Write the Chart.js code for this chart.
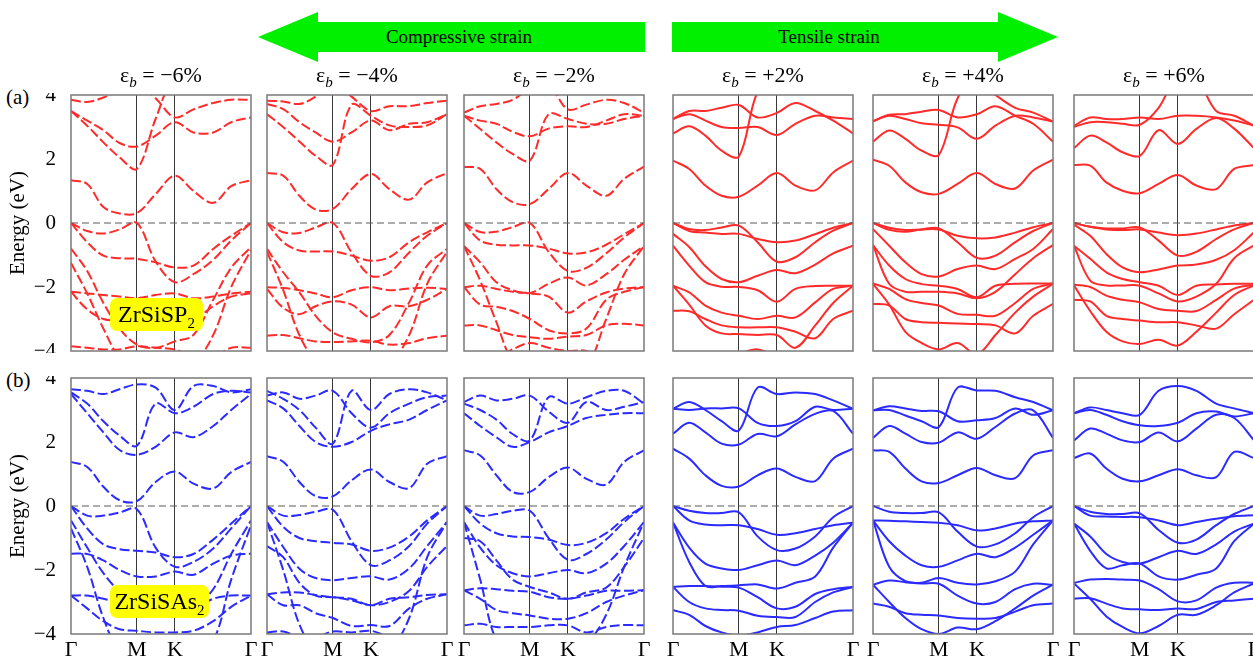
<!DOCTYPE html>
<html>
<head>
<meta charset="utf-8">
<script src="https://cdn.jsdelivr.net/npm/chart.js@4.4.1/dist/chart.umd.min.js"></script>
<style>
  body { margin: 0; width: 1253px; height: 660px; overflow: hidden; background: #fff; position: relative;
         font-family: 'Liberation Serif', 'Times New Roman', serif; color: #000; }
  canvas { position: absolute; }
  .ttl { position: absolute; width: 180px; text-align: center; font-size: 22px; line-height: 26px; top: 62px; }
  .ttl sub { font-size: 15px; font-style: italic; }
  .tag { position: absolute; left: 6px; font-size: 21px; line-height: 26px; }
  .mat { position: absolute; left: 110px; height: 33px; line-height: 33px; background: #ffff00; border-radius: 7px;
         text-align: center; font-size: 24px; z-index: 5; }
  .mat sub { font-size: 15px; }
  svg { position: absolute; left: 0; top: 0; }
</style>
</head>
<body>
<svg width="1253" height="70">
  <polygon points="258,37 318,12 318,22 645,22 645,52 318,52 318,62" fill="#00f000"/>
  <polygon points="1058,37 998,12 998,22 672,22 672,52 998,52 998,62" fill="#00f000"/>
  <text x="459" y="43" font-size="19" text-anchor="middle" font-family="Liberation Serif">Compressive strain</text>
  <text x="829" y="43" font-size="19" text-anchor="middle" font-family="Liberation Serif">Tensile strain</text>
</svg>
<div class="tag" style="top:84px">(a)</div>
<div class="tag" style="top:367px">(b)</div>
<div class="mat" style="top:298px;width:93px">ZrSiSP<sub>2</sub></div>
<div class="mat" style="top:585px;width:99px">ZrSiSAs<sub>2</sub></div>

<script>
// k path positions (Γ-M-K-Γ, hexagonal, normalised) and labels
const kPath = [0, 0.09, 0.18, 0.27, 0.366, 0.47, 0.577, 0.68, 0.79, 0.89, 1];
const kTicks = [0, 0.366, 0.577, 1];
const kLabels = ['Γ', 'M', 'K', 'Γ'];
const energyTicks = [-4, -2, 0, 2, 4];
const strains = ['−6%', '−4%', '−2%', '+2%', '+4%', '+6%'];

// (a) ZrSiSP2 bands, eV at kPath
const bandsP_m6 = [
  [1.34, 1.22, 0.5, 0.3, 0.31, 0.9, 1.48, 1.0, 0.63, 1.15, 1.34],
  [3.5, 3.04, 2.52, 2.05, 1.69, 3.25, 4.6, 4.6, 4.6, 4.6, 4.6],
  [3.5, 3.2, 2.9, 2.5, 2.39, 2.73, 3.15, 2.83, 2.83, 3.15, 3.3],
  [3.85, 3.78, 3.92, 4.15, 4.4, 3.9, 3.3, 3.55, 3.75, 3.85, 3.85],
  [0, -0.25, -0.33, -0.2, 0, -1.2, -1.85, -1.6, -1.15, -0.55, 0],
  [0, -0.6, -1.02, -1.1, -1.12, -1.23, -1.39, -1.33, -0.81, -0.4, 0],
  [-0.8, -1.5, -2.5, -3.3, -3.8, -3.9, -3.7, -3.5, -2.4, -1.4, -0.75],
  [-1.25, -2.2, -3.3, -4.2, -4.5, -4.5, -4.5, -4.4, -3.5, -2.0, -0.85],
  [-2.15, -2.2, -2.25, -2.3, -2.35, -2.25, -2.2, -2.35, -2.3, -2.2, -2.15],
  [-2.15, -2.7, -3.0, -3.05, -3.1, -3.2, -3.25, -3.05, -2.6, -2.3, -2.2],
  [-3.85, -3.9, -3.95, -3.95, -3.85, -3.9, -3.95, -4.2, -4.2, -3.9, -3.9]
];
const bandsP_m4 = [
  [1.56, 1.48, 0.85, 0.42, 0.44, 1.06, 1.53, 1.06, 0.73, 1.27, 1.56],
  [3.4, 3.0, 2.55, 2.1, 1.82, 3.7, 3.35, 3.05, 3.0, 3.05, 3.4],
  [3.72, 3.56, 3.15, 2.83, 2.54, 2.83, 3.2, 2.9, 3.1, 3.15, 3.4],
  [3.82, 3.8, 3.72, 3.95, 4.4, 3.95, 3.5, 3.65, 3.65, 3.75, 3.82],
  [0, -0.29, -0.31, -0.14, 0, -0.92, -1.65, -1.54, -0.92, -0.4, 0],
  [0, -0.6, -0.86, -0.89, -0.89, -1.02, -1.18, -1.07, -0.6, -0.29, 0],
  [-0.81, -1.54, -2.17, -2.9, -3.42, -3.62, -3.73, -3.5, -2.48, -1.33, -0.81],
  [-0.9, -2.1, -3.5, -4.3, -4.5, -4.5, -4.5, -4.4, -3.5, -1.9, -0.9],
  [-2.01, -2.03, -2.1, -2.2, -2.32, -2.1, -2.01, -2.1, -2.05, -2.02, -2.06],
  [-2.06, -2.65, -2.85, -2.6, -2.45, -2.55, -2.95, -2.6, -2.6, -2.4, -2.06],
  [-3.52, -3.5, -3.6, -3.7, -3.72, -3.7, -3.68, -3.8, -3.75, -3.6, -3.52]
];
const bandsP_m2 = [
  [1.76, 1.69, 1.06, 0.65, 0.59, 1.06, 1.56, 1.17, 0.85, 1.38, 1.76],
  [3.35, 2.94, 2.52, 2.16, 1.95, 3.4, 3.25, 3.1, 3.1, 3.25, 3.35],
  [3.35, 3.2, 3.1, 2.85, 2.71, 2.95, 3.02, 3.0, 3.2, 3.4, 3.35],
  [3.45, 3.65, 3.72, 3.85, 4.2, 4.3, 3.55, 3.7, 3.85, 3.75, 3.45],
  [0, -0.28, -0.27, -0.13, 0, -0.9, -1.5, -1.4, -0.95, -0.45, 0],
  [0, -0.55, -0.68, -0.7, -0.7, -0.8, -0.95, -0.92, -0.68, -0.35, 0],
  [-0.72, -1.23, -1.85, -2.1, -2.19, -1.9, -1.7, -1.95, -1.6, -1.15, -0.72],
  [-0.72, -1.8, -3.1, -4.3, -4.5, -4.5, -4.5, -4.5, -3.0, -1.6, -0.72],
  [-2.0, -1.96, -2.06, -2.15, -2.2, -2.3, -2.8, -2.45, -2.17, -2.05, -2.0],
  [-2.0, -2.55, -2.62, -2.75, -3.0, -3.35, -3.45, -3.3, -2.4, -2.15, -2.0],
  [-3.2, -3.2, -3.35, -3.5, -3.57, -3.62, -3.55, -3.5, -3.2, -3.15, -3.2],
  [-4.3, -4.3, -4.2, -3.95, -3.75, -3.9, -4.0, -4.0, -4.3, -4.3, -4.3]
];
const bandsP_p2 = [
  [1.95, 1.69, 1.17, 0.85, 0.82, 1.17, 1.56, 1.17, 1.02, 1.58, 1.95],
  [2.8, 3.02, 2.73, 2.26, 2.08, 4.1, 4.6, 4.6, 4.6, 4.6, 4.6],
  [3.25, 3.4, 3.2, 3.0, 2.97, 3.0, 2.75, 3.1, 3.35, 3.3, 3.25],
  [3.25, 3.5, 3.5, 3.6, 3.69, 3.3, 3.44, 3.75, 3.5, 3.2, 2.8],
  [0, -0.19, -0.22, -0.14, -0.08, -0.6, -1.21, -1.07, -0.6, -0.24, 0],
  [0, -0.25, -0.3, -0.34, -0.34, -0.5, -0.6, -0.55, -0.35, -0.15, 0],
  [-0.34, -0.75, -1.35, -1.75, -1.85, -1.65, -1.47, -1.57, -1.3, -0.95, -0.71],
  [-0.71, -1.33, -1.85, -1.99, -2.0, -2.1, -2.46, -2.06, -1.97, -1.96, -1.96],
  [-1.96, -2.17, -2.58, -2.8, -2.9, -3.0, -2.9, -2.95, -2.48, -2.06, -1.96],
  [-2.74, -2.76, -3.0, -3.2, -3.26, -3.26, -3.26, -3.4, -3.6, -3.0, -2.74],
  [-1.96, -2.55, -3.2, -3.45, -3.47, -3.5, -3.5, -3.9, -3.2, -2.5, -1.96],
  [-4.5, -4.5, -4.5, -4.3, -4.1, -3.95, -4.2, -4.5, -4.5, -4.5, -4.5]
];
const bandsP_p4 = [
  [1.98, 1.79, 1.27, 0.96, 0.91, 1.22, 1.56, 1.22, 1.08, 1.64, 1.98],
  [2.54, 2.89, 2.63, 2.26, 2.13, 3.9, 4.6, 4.6, 4.6, 4.6, 4.6],
  [3.18, 3.35, 3.25, 3.12, 3.07, 2.99, 2.63, 3.04, 3.35, 3.3, 3.17],
  [3.18, 3.38, 3.4, 3.48, 3.53, 3.3, 3.4, 3.65, 3.35, 3.1, 2.54],
  [4.6, 4.6, 4.6, 4.6, 4.6, 4.6, 4.4, 4.0, 3.6, 3.45, 3.17],
  [0, -0.21, -0.27, -0.2, -0.17, -0.6, -1.09, -1.02, -0.6, -0.25, 0],
  [0, -0.15, -0.22, -0.2, -0.2, -0.4, -0.48, -0.45, -0.3, -0.13, 0],
  [-0.19, -0.71, -1.23, -1.6, -1.67, -1.44, -1.33, -1.44, -1.12, -0.81, -0.19],
  [-0.69, -1.33, -1.75, -1.91, -1.96, -2.06, -2.32, -1.96, -1.9, -1.89, -1.89],
  [-0.69, -1.9, -2.15, -2.15, -2.15, -2.2, -2.35, -2.15, -1.6, -1.1, -0.69],
  [-1.89, -2.06, -2.38, -2.5, -2.58, -2.84, -2.87, -2.9, -2.5, -2.06, -1.89],
  [-2.53, -2.58, -3.0, -3.1, -3.12, -3.14, -3.16, -3.2, -3.45, -2.9, -2.53],
  [-1.9, -2.55, -3.4, -3.75, -3.95, -3.75, -4.1, -3.5, -2.8, -2.3, -1.9]
];
const bandsP_p6 = [
  [1.81, 1.79, 1.27, 1.01, 0.93, 1.22, 1.5, 1.17, 1.06, 1.69, 1.81],
  [2.34, 2.73, 2.52, 2.21, 2.1, 2.9, 2.47, 2.94, 3.28, 2.95, 2.34],
  [3.04, 3.3, 3.25, 3.25, 3.3, 3.25, 3.35, 3.35, 3.3, 3.2, 3.04],
  [3.0, 3.15, 3.15, 3.1, 3.07, 3.6, 4.6, 4.5, 3.5, 3.35, 3.04],
  [0, -0.12, -0.17, -0.17, -0.14, -0.55, -1.02, -0.9, -0.5, -0.2, 0],
  [0, -0.12, -0.2, -0.22, -0.2, -0.3, -0.38, -0.33, -0.2, -0.08, 0],
  [-0.05, -0.4, -0.97, -1.39, -1.54, -1.45, -1.33, -1.3, -1.15, -0.85, -0.29],
  [-0.71, -1.12, -1.54, -1.75, -1.85, -1.96, -2.25, -1.96, -1.92, -1.9, -1.9],
  [-0.71, -1.8, -1.95, -1.95, -1.96, -2.2, -2.45, -2.3, -1.9, -1.1, -0.7],
  [-1.93, -2.0, -2.27, -2.4, -2.48, -2.69, -2.74, -2.75, -2.4, -2.05, -1.93],
  [-2.4, -2.45, -2.9, -3.0, -3.05, -3.1, -3.1, -3.2, -3.3, -2.85, -2.4],
  [-1.95, -2.75, -3.4, -3.7, -3.78, -3.65, -3.83, -3.4, -2.8, -2.25, -1.95]
];

// (b) ZrSiSAs2 bands, eV at kPath
const bandsAs_m6 = [
  [1.38, 1.22, 0.6, 0.18, 0.15, 0.75, 1.08, 0.7, 0.55, 1.06, 1.38],
  [3.55, 3.2, 2.65, 2.2, 1.88, 3.2, 2.9, 3.1, 3.5, 3.6, 3.55],
  [3.5, 2.9, 2.3, 1.75, 1.6, 1.85, 2.3, 2.15, 2.5, 3.0, 3.5],
  [3.65, 3.6, 3.5, 3.65, 3.8, 3.7, 3.0, 3.75, 3.75, 3.55, 3.65],
  [0, -0.3, -0.3, -0.2, -0.1, -1.3, -1.9, -1.75, -1.33, -0.7, 0],
  [0, -0.7, -1.2, -1.35, -1.4, -1.45, -1.6, -1.5, -1.05, -0.55, 0],
  [-0.45, -1.3, -2.1, -2.65, -2.85, -3.0, -3.4, -3.2, -2.6, -1.5, -0.45],
  [-0.7, -1.9, -3.5, -4.5, -4.5, -4.5, -4.5, -4.5, -4.2, -2.3, -0.6],
  [-1.49, -1.5, -1.7, -2.0, -2.2, -2.2, -2.05, -2.15, -1.8, -1.55, -1.49],
  [-2.8, -2.8, -2.9, -3.0, -3.05, -3.2, -3.3, -3.2, -2.9, -2.8, -2.8],
  [-2.8, -3.2, -3.6, -3.85, -3.9, -3.95, -3.95, -3.9, -3.6, -3.15, -2.8]
];
const bandsAs_m4 = [
  [1.56, 1.38, 0.75, 0.31, 0.3, 0.8, 1.14, 0.75, 0.56, 1.32, 1.56],
  [3.3, 3.05, 2.5, 2.0, 1.85, 2.0, 2.35, 2.55, 2.7, 3.0, 3.3],
  [3.6, 3.35, 3.0, 2.45, 1.95, 3.6, 3.0, 3.5, 3.65, 3.55, 3.3],
  [3.45, 3.55, 3.35, 3.45, 3.6, 2.9, 2.45, 2.9, 3.2, 3.4, 3.45],
  [0, -0.3, -0.28, -0.18, -0.12, -1.1, -1.85, -1.7, -1.25, -0.55, 0],
  [0, -0.65, -1.0, -1.1, -1.15, -1.2, -1.4, -1.3, -0.95, -0.45, 0],
  [-0.5, -1.28, -1.96, -2.25, -2.32, -2.25, -2.2, -2.3, -1.95, -1.25, -0.5],
  [-0.5, -2.0, -3.7, -4.5, -4.5, -4.5, -4.5, -4.5, -3.5, -1.6, -0.5],
  [-1.25, -1.6, -2.4, -2.8, -2.85, -2.95, -3.1, -3.0, -2.65, -1.9, -1.25],
  [-2.76, -2.7, -2.7, -2.78, -2.85, -2.9, -3.1, -2.9, -2.85, -2.78, -2.76],
  [-2.76, -3.1, -3.1, -3.35, -3.5, -3.75, -3.72, -3.75, -3.2, -2.9, -2.76],
  [-3.95, -3.92, -4.1, -4.1, -3.92, -3.95, -3.9, -4.1, -4.3, -4.3, -4.3]
];
const bandsAs_m2 = [
  [1.74, 1.58, 0.96, 0.44, 0.44, 0.9, 1.2, 0.85, 0.67, 1.38, 1.74],
  [2.9, 2.5, 2.15, 1.85, 2.0, 2.3, 2.5, 2.75, 2.85, 2.9, 2.9],
  [3.2, 3.0, 2.7, 2.25, 2.05, 3.4, 3.2, 3.4, 3.6, 3.6, 3.2],
  [3.25, 3.45, 3.3, 3.35, 3.45, 2.95, 2.6, 3.25, 3.0, 3.1, 3.25],
  [0, -0.3, -0.25, -0.15, -0.15, -1.0, -1.68, -1.5, -1.05, -0.5, 0],
  [0, -0.55, -0.85, -0.95, -0.97, -1.05, -1.22, -1.15, -0.85, -0.4, 0],
  [-0.5, -1.3, -1.85, -2.1, -2.2, -2.1, -2.0, -2.1, -1.8, -1.25, -0.5],
  [-0.5, -2.3, -4.2, -4.5, -4.5, -4.5, -4.5, -4.3, -3.4, -1.9, -0.5],
  [-1.0, -1.1, -1.7, -2.3, -2.53, -2.7, -2.9, -2.7, -2.55, -1.9, -1.0],
  [-2.63, -2.57, -2.6, -2.65, -2.68, -2.85, -2.9, -2.8, -2.65, -2.65, -2.63],
  [-2.63, -2.9, -3.25, -3.35, -3.42, -3.52, -3.52, -3.35, -3.0, -2.8, -2.63],
  [-3.73, -3.68, -3.78, -3.78, -3.78, -3.73, -3.73, -3.95, -3.78, -3.72, -3.73]
];
const bandsAs_p2 = [
  [1.79, 1.48, 0.96, 0.63, 0.61, 0.96, 1.17, 0.91, 0.78, 1.48, 1.79],
  [2.26, 2.6, 2.3, 1.95, 1.92, 2.25, 2.18, 2.55, 2.88, 2.97, 2.26],
  [3.04, 3.25, 3.0, 2.65, 2.36, 3.7, 3.5, 3.55, 3.5, 3.3, 3.04],
  [3.04, 3.0, 3.05, 3.05, 3.05, 2.6, 2.5, 2.65, 3.1, 3.0, 3.04],
  [0, -0.15, -0.22, -0.22, -0.2, -0.95, -1.38, -1.33, -0.95, -0.35, 0],
  [0, -0.45, -0.58, -0.6, -0.6, -0.72, -0.9, -0.85, -0.72, -0.6, -0.52],
  [-0.52, -1.3, -1.8, -1.95, -2.0, -1.85, -1.7, -1.85, -1.55, -1.15, -0.52],
  [-0.52, -1.75, -2.5, -2.5, -2.48, -2.45, -2.58, -2.4, -2.2, -1.3, -0.52],
  [-2.53, -2.5, -2.5, -2.52, -2.55, -2.85, -3.2, -3.15, -2.75, -2.6, -2.53],
  [-2.53, -3.0, -3.2, -3.25, -3.27, -3.43, -3.47, -3.47, -3.0, -2.7, -2.53],
  [-3.26, -3.4, -3.75, -3.95, -4.05, -3.95, -3.78, -3.72, -3.5, -3.3, -3.26]
];
const bandsAs_p4 = [
  [1.74, 1.69, 1.17, 0.77, 0.72, 0.96, 1.19, 0.96, 0.87, 1.58, 1.74],
  [2.13, 2.5, 2.26, 2.0, 1.98, 2.3, 2.1, 2.47, 2.89, 2.99, 2.13],
  [2.99, 3.0, 2.83, 2.65, 2.47, 3.7, 3.61, 3.6, 3.4, 3.25, 2.99],
  [2.99, 3.12, 3.05, 2.97, 2.96, 2.65, 2.68, 2.75, 3.05, 2.85, 2.99],
  [0, -0.18, -0.22, -0.22, -0.2, -0.8, -1.27, -1.2, -0.85, -0.35, 0],
  [-0.45, -0.46, -0.48, -0.5, -0.52, -0.6, -0.76, -0.7, -0.55, -0.48, -0.45],
  [-0.45, -1.1, -1.55, -1.85, -1.9, -1.7, -1.49, -1.6, -1.3, -0.9, -0.45],
  [-0.45, -1.9, -2.35, -2.4, -2.25, -2.4, -2.45, -2.35, -2.05, -1.2, -0.45],
  [-2.46, -2.33, -2.38, -2.42, -2.43, -2.8, -3.05, -3.0, -2.6, -2.43, -2.46],
  [-3.05, -3.15, -3.35, -3.4, -3.42, -3.5, -3.52, -3.5, -3.3, -3.1, -3.05],
  [-2.46, -3.0, -3.5, -3.85, -4.0, -3.8, -3.85, -3.6, -3.2, -2.8, -2.46]
];
const bandsAs_p6 = [
  [1.5, 1.64, 1.17, 0.85, 0.77, 0.96, 1.15, 0.96, 0.9, 1.69, 1.5],
  [2.05, 2.42, 2.26, 2.05, 2.0, 2.3, 2.02, 2.42, 2.85, 2.75, 2.05],
  [2.9, 3.0, 2.85, 2.65, 2.52, 2.5, 2.6, 2.9, 2.95, 2.8, 2.9],
  [2.9, 3.08, 3.0, 2.9, 2.85, 3.6, 3.75, 3.6, 3.2, 3.05, 2.9],
  [0, -0.18, -0.25, -0.25, -0.23, -0.75, -1.15, -1.05, -0.6, -0.25, 0],
  [0, -0.3, -0.33, -0.34, -0.35, -0.45, -0.6, -0.5, -0.4, -0.32, -0.29],
  [-0.55, -0.95, -1.5, -1.75, -1.8, -1.6, -1.4, -1.5, -1.2, -0.8, -0.55],
  [-0.55, -1.4, -1.95, -1.85, -1.8, -2.2, -2.3, -2.15, -1.95, -1.1, -0.55],
  [-2.4, -2.3, -2.28, -2.3, -2.33, -2.6, -2.98, -2.95, -2.55, -2.4, -2.4],
  [-2.9, -2.88, -3.05, -3.2, -3.23, -3.25, -3.2, -3.22, -3.0, -2.95, -2.9],
  [-2.42, -2.9, -3.45, -3.78, -3.98, -3.75, -3.4, -3.4, -3.1, -2.7, -2.42]
];

const panelBands = [
  [bandsP_m6, bandsP_m4, bandsP_m2, bandsP_p2, bandsP_p4, bandsP_p6],
  [bandsAs_m6, bandsAs_m4, bandsAs_m2, bandsAs_p2, bandsAs_p4, bandsAs_p6]
];

// panel placement
const colLeft = [71, 267, 464, 673, 873, 1074];
const rowTop = [95, 378];
const plotW = 180, plotH = 256;
const rowColor = ['#ff2b2b', '#2b2bff'];

Chart.defaults.font.family = "'Liberation Serif', 'Times New Roman', serif";

// box around each panel
const framePlugin = {
  id: 'frame',
  afterDraw(chart) {
    const { ctx, chartArea: a } = chart;
    ctx.save();
    ctx.strokeStyle = '#7a7a7a';
    ctx.lineWidth = 1.5;
    ctx.strokeRect(a.left, a.top, a.right - a.left, a.bottom - a.top);
    ctx.restore();
  }
};

function drawPanel(row, col) {
  const padL = col === 0 ? 71 : 12, padR = 12, padT = 2, padB = row === 1 ? 30 : 2;
  const cv = document.createElement('canvas');
  cv.width = plotW + padL + padR;
  cv.height = plotH + padT + padB;
  cv.style.left = (colLeft[col] - padL) + 'px';
  cv.style.top = (rowTop[row] - padT) + 'px';
  document.body.appendChild(cv);

  const dashed = col < 3;
  let datasets = panelBands[row][col].map(band => ({
    data: band.map((e, i) => ({ x: kPath[i], y: e })),
    borderColor: rowColor[row],
    borderWidth: 2,
    borderDash: dashed ? [10, 3.5] : [],
    pointRadius: 0,
    tension: 0.35
  }));
  // Fermi level
  datasets.unshift({
    data: [{ x: 0, y: 0 }, { x: 1, y: 0 }],
    borderColor: '#5a5a5a', borderWidth: 1.2, borderDash: [7, 4], pointRadius: 0
  });

  new Chart(cv, {
    type: 'line',
    data: { datasets },
    plugins: [framePlugin],
    options: {
      responsive: false,
      animation: false,
      devicePixelRatio: 1,
      layout: { padding: { left: col === 0 ? 0 : padL, right: padR, top: padT, bottom: row === 1 ? 0 : padB } },
      plugins: { legend: { display: false }, tooltip: { enabled: false } },
      scales: {
        x: {
          type: 'linear', min: 0, max: 1,
          afterBuildTicks: s => { s.ticks = kTicks.map(v => ({ value: v })); },
          afterFit: s => { s.height = row === 1 ? padB : 0; s.paddingLeft = 0; s.paddingRight = 0; },
          border: { display: false },
          grid: {
            drawTicks: false, lineWidth: 1,
            color: c => (c.tick && (c.tick.value === 0 || c.tick.value === 1)) ? 'rgba(0,0,0,0)' : '#3a3a3a'
          },
          ticks: {
            display: row === 1, padding: 3, color: '#000', font: { size: 22 },
            autoSkip: false, maxRotation: 0,
            callback: (v, i) => kLabels[i]
          }
        },
        y: {
          min: -4, max: 4,
          afterBuildTicks: s => { s.ticks = energyTicks.map(v => ({ value: v })); },
          afterFit: s => { s.width = col === 0 ? padL : 0; s.paddingTop = 0; s.paddingBottom = 0; },
          border: { display: false },
          grid: { display: false },
          ticks: {
            display: col === 0, padding: 7, color: '#000', font: { size: 21 },
            callback: v => v < 0 ? '−' + Math.abs(v) : String(v)
          },
          title: {
            display: col === 0, text: 'Energy (eV)', color: '#000', font: { size: 21 },
            padding: { top: 6, bottom: 0 }
          }
        }
      }
    }
  });
}

for (let r = 0; r < 2; r++) {
  for (let c = 0; c < 6; c++) drawPanel(r, c);
}

// strain titles over the columns
strains.forEach((s, c) => {
  const d = document.createElement('div');
  d.className = 'ttl';
  d.style.left = (colLeft[c] + plotW / 2 - 90) + 'px';
  d.innerHTML = 'ε<sub>b</sub> = ' + s;
  document.body.appendChild(d);
});
</script>
</body>
</html>
